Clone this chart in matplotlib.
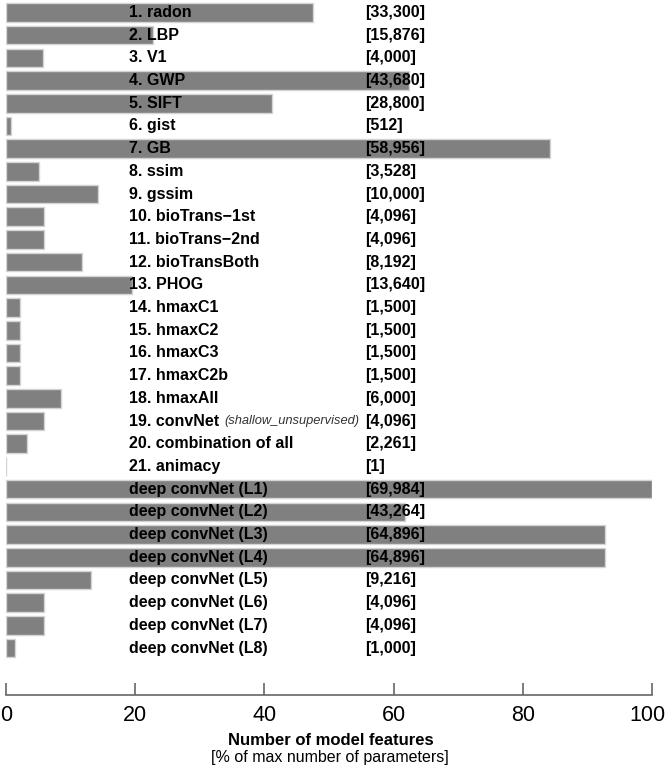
import matplotlib
matplotlib.use("Agg")
import matplotlib.pyplot as plt
import matplotlib.transforms as mtransforms
import numpy as np

plt.rcParams['font.family'] = ['Liberation Sans', 'DejaVu Sans']

# model names and number of features
labels = ['1. radon', '2. LBP', '3. V1', '4. GWP', '5. SIFT', '6. gist', '7. GB',
          '8. ssim', '9. gssim', '10. bioTrans\u22121st', '11. bioTrans\u22122nd',
          '12. bioTransBoth', '13. PHOG', '14. hmaxC1', '15. hmaxC2', '16. hmaxC3',
          '17. hmaxC2b', '18. hmaxAll', '19. convNet', '20. combination of all',
          '21. animacy', 'deep convNet (L1)', 'deep convNet (L2)', 'deep convNet (L3)',
          'deep convNet (L4)', 'deep convNet (L5)', 'deep convNet (L6)',
          'deep convNet (L7)', 'deep convNet (L8)']
n_features = [33300, 15876, 4000, 43680, 28800, 512, 58956, 3528, 10000, 4096, 4096,
              8192, 13640, 1500, 1500, 1500, 1500, 6000, 4096, 2261, 1, 69984, 43264,
              64896, 64896, 9216, 4096, 4096, 1000]
note_label = '19. convNet'
note_text = '(shallow_unsupervised)'
xticks = [0, 20, 40, 60, 80, 100]

# percent of the largest feature count
pct = np.array(n_features) / max(n_features) * 100
ypos = np.arange(len(labels))

fig = plt.figure(figsize=(6.66, 7.68), dpi=100)
ax = fig.add_axes([0.009, 0.095, 0.970, 0.905])

ax.barh(ypos, pct, height=0.82, color='#808080', edgecolor='#d4d4d4', linewidth=1)

for y, lab, n in zip(ypos, labels, n_features):
    t = ax.text(19.0, y, lab, fontsize=11.5, fontweight='bold', va='center', ha='left')
    ax.text(55.6, y, '[{:,}]'.format(n), fontsize=11.5, fontweight='bold',
            va='center', ha='left')
    if lab == note_label:
        ax.annotate(note_text, xy=(1, 0.5), xycoords=t, xytext=(4, 0),
                    textcoords='offset points', fontsize=9.3, style='italic',
                    va='center', ha='left', color='#333333')

ax.set_xlim(0, 100)
ax.set_ylim(30.07, -0.55)
ax.set_yticks([])
ax.set_xticks(xticks)
ax.tick_params(axis='x', direction='in', length=9, width=1.2, color='#666666',
               labelsize=15.5, pad=7)
for s in ['top', 'right', 'left']:
    ax.spines[s].set_visible(False)
ax.spines['bottom'].set_color('#666666')
ax.spines['bottom'].set_linewidth(1.2)

# keep the last tick label inside the figure
last = ax.get_xticklabels()[-1]
last.set_horizontalalignment('right')
last.set_transform(last.get_transform() +
                   mtransforms.ScaledTranslation(0.13, 0, fig.dpi_scale_trans))

fig.text(0.496, 0.036, 'Number of model features', ha='center', va='center',
         fontsize=12, fontweight='bold')
fig.text(0.496, 0.014, '[% of max number of parameters]', ha='center', va='center',
         fontsize=11.5)

plt.savefig('out.png', dpi=100)
